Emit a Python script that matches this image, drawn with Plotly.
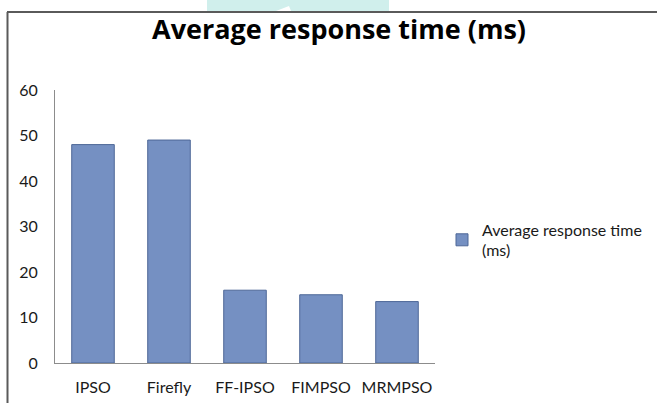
import plotly.graph_objects as go

# Chart data
algorithms = ["IPSO", "Firefly", "FF-IPSO", "FIMPSO", "MRMPSO"]
response_ms = [48, 49, 16, 15, 13.5]
series_name = "Average response time (ms)"
y_ticks = [0, 10, 20, 30, 40, 50, 60]

W, H = 657, 403
L, R, T, B = 55, 222, 90, 40
PW, PH = W - L - R, H - T - B


def px(x):
    """pixel x -> paper x"""
    return (x - L) / PW


def py(y):
    """pixel y (from top) -> paper y"""
    return (H - B - y) / PH


FONT = "Lato, 'Open Sans', sans-serif"
TITLE_FONT = "'Open Sans', Lato, sans-serif"

fig = go.Figure()
fig.add_trace(go.Bar(
    x=algorithms,
    y=response_ms,
    name="Average response time<br>(ms)",
    marker=dict(color="#7590c2", line=dict(color="#4d6797", width=1)),
    showlegend=True,
))

shapes = [
    # faint teal band across the top edge
    dict(type="path", xref="paper", yref="paper", layer="below",
         path=(f"M {px(207)} {py(0)} L {px(389)} {py(0)} L {px(389)} {py(11)} "
               f"L {px(291)} {py(11)} L {px(289)} {py(6)} L {px(276)} {py(11)} "
               f"L {px(207)} {py(11)} Z"),
         fillcolor="#d0efec", line=dict(width=0)),
    # chart frame: top and left edges
    dict(type="line", xref="paper", yref="paper",
         x0=px(7), x1=px(W), y0=py(12), y1=py(12),
         line=dict(color="#5a5a5a", width=2)),
    dict(type="line", xref="paper", yref="paper",
         x0=px(7.5), x1=px(7.5), y0=py(12), y1=py(H),
         line=dict(color="#5a5a5a", width=2)),
]

fig.update_layout(
    width=W, height=H,
    margin=dict(l=L, r=R, t=T, b=B, autoexpand=False),
    paper_bgcolor="white", plot_bgcolor="white",
    font=dict(family=FONT, size=16, color="#1a1a1a"),
    title=dict(text="<b>" + series_name + "</b>",
               x=339 / W, xref="container", xanchor="center",
               y=1 - 30 / H, yref="container", yanchor="middle",
               font=dict(family=TITLE_FONT, size=27, color="#000000")),
    bargap=0.44,
    showlegend=True,
    legend=dict(x=px(442), y=py(240), xref="paper", yref="paper",
                xanchor="left", yanchor="middle",
                font=dict(family=FONT, size=16, color="#1a1a1a"),
                bgcolor="rgba(0,0,0,0)", itemwidth=30,
                tracegroupgap=0),
    shapes=shapes,
)

fig.update_xaxes(showgrid=False, showline=True, linecolor="#8c8c8c", linewidth=1,
                 ticks="", ticklabelstandoff=10, automargin=False,
                 tickfont=dict(family=FONT, size=16, color="#1a1a1a"))
fig.update_yaxes(range=[0, 60], tickvals=y_ticks, showgrid=False, zeroline=False,
                 showline=True, linecolor="#8c8c8c", linewidth=1,
                 ticks="", ticklabelstandoff=13, automargin=False,
                 tickfont=dict(family=FONT, size=16, color="#1a1a1a"))

fig.write_html("out.html", config={"displayModeBar": False})
